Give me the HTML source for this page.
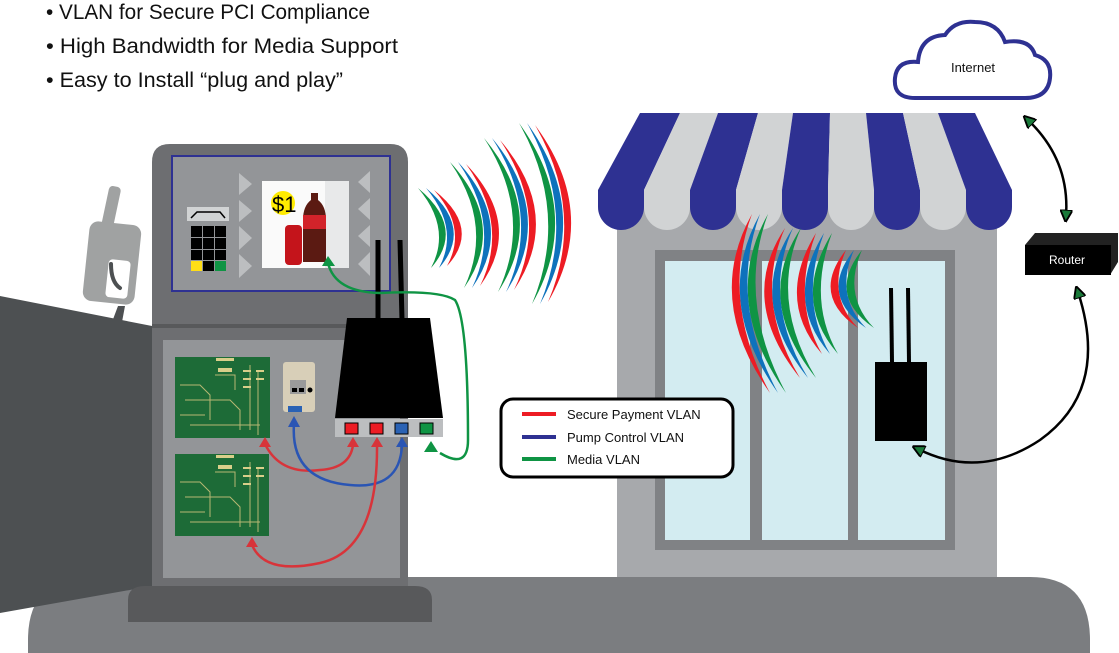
<!DOCTYPE html>
<html><head><meta charset="utf-8"><style>html,body{margin:0;padding:0;background:#fff}svg{display:block}</style></head>
<body>
<svg width="1119" height="653" viewBox="0 0 1119 653" xmlns="http://www.w3.org/2000/svg" font-family="Liberation Sans, sans-serif">
<defs>
<marker id="ah" viewBox="0 0 10 10" refX="5" refY="5" markerWidth="5" markerHeight="5" orient="auto-start-reverse"><path d="M0,0L10,5L0,10z" fill="#1a7a3a" stroke="#000" stroke-width="1.5"/></marker>
</defs>
<g font-size="21" fill="#111">
<text x="46" y="19" textLength="324" lengthAdjust="spacingAndGlyphs">• VLAN for Secure PCI Compliance</text>
<text x="46" y="53" textLength="352" lengthAdjust="spacingAndGlyphs">• High Bandwidth for Media Support</text>
<text x="46" y="87" textLength="297" lengthAdjust="spacingAndGlyphs">• Easy to Install “plug and play”</text>
</g>
<path d="M28,653 L28,640 Q28,577 90,577 L1030,577 Q1090,577 1090,640 L1090,653 Z" fill="#7b7d80"/>
<rect x="617" y="190" width="380" height="387" fill="#a7a9ac"/>
<rect x="655" y="250" width="300" height="300" fill="#808285"/>
<rect x="665" y="261" width="85" height="279" fill="#d3ecf1"/>
<rect x="762" y="261" width="86" height="279" fill="#d3ecf1"/>
<rect x="858" y="261" width="87" height="279" fill="#d3ecf1"/>
<g>
<path d="M640,113 L680,113 L644,190 L598,190 Z" fill="#2e3192"/>
<path d="M680,113 L718,113 L690,190 L644,190 Z" fill="#d1d3d4"/>
<path d="M718,113 L758,113 L736,190 L690,190 Z" fill="#2e3192"/>
<path d="M758,113 L793,113 L782,190 L736,190 Z" fill="#d1d3d4"/>
<path d="M793,113 L830,113 L828,190 L782,190 Z" fill="#2e3192"/>
<path d="M830,113 L866,113 L874,190 L828,190 Z" fill="#d1d3d4"/>
<path d="M866,113 L903,113 L920,190 L874,190 Z" fill="#2e3192"/>
<path d="M903,113 L938,113 L966,190 L920,190 Z" fill="#d1d3d4"/>
<path d="M938,113 L975,113 L1012,190 L966,190 Z" fill="#2e3192"/>
<path d="M598,190 L644,190 L644,207 A23,23 0 0 1 598,207 Z" fill="#2e3192"/>
<path d="M644,190 L690,190 L690,207 A23,23 0 0 1 644,207 Z" fill="#d1d3d4"/>
<path d="M690,190 L736,190 L736,207 A23,23 0 0 1 690,207 Z" fill="#2e3192"/>
<path d="M736,190 L782,190 L782,207 A23,23 0 0 1 736,207 Z" fill="#d1d3d4"/>
<path d="M782,190 L828,190 L828,207 A23,23 0 0 1 782,207 Z" fill="#2e3192"/>
<path d="M828,190 L874,190 L874,207 A23,23 0 0 1 828,207 Z" fill="#d1d3d4"/>
<path d="M874,190 L920,190 L920,207 A23,23 0 0 1 874,207 Z" fill="#2e3192"/>
<path d="M920,190 L966,190 L966,207 A23,23 0 0 1 920,207 Z" fill="#d1d3d4"/>
<path d="M966,190 L1012,190 L1012,207 A23,23 0 0 1 966,207 Z" fill="#2e3192"/>
</g>
<!-- store waves (crescents bulging left) -->
<g>
<path d="M752,214 Q704,300 770,393 Q720,300 752,214Z" fill="#ed1c24"/>
<path d="M760,214 Q712,300 778,393 Q728,300 760,214Z" fill="#0e72bc"/>
<path d="M768,214 Q720,300 786,393 Q736,300 768,214Z" fill="#0f9444"/>
<path d="M785,228 Q737,300 800,378 Q753,300 785,228Z" fill="#ed1c24"/>
<path d="M793,228 Q745,300 808,378 Q761,300 793,228Z" fill="#0e72bc"/>
<path d="M801,228 Q753,300 816,378 Q769,300 801,228Z" fill="#0f9444"/>
<path d="M816,233 Q775,300 822,354 Q791,300 816,233Z" fill="#ed1c24"/>
<path d="M824,233 Q783,300 830,354 Q799,300 824,233Z" fill="#0e72bc"/>
<path d="M832,233 Q791,300 838,354 Q807,300 832,233Z" fill="#0f9444"/>
<path d="M846,250 Q810,295 858,328 Q826,295 846,250Z" fill="#ed1c24"/>
<path d="M854,250 Q818,295 866,328 Q834,295 854,250Z" fill="#0e72bc"/>
<path d="M862,250 Q826,295 874,328 Q842,295 862,250Z" fill="#0f9444"/>
</g>
<line x1="891" y1="288" x2="892" y2="362" stroke="#000" stroke-width="4"/>
<line x1="908" y1="288" x2="909" y2="362" stroke="#000" stroke-width="4"/>
<rect x="875" y="362" width="52" height="79" fill="#000"/>
<path d="M915,98 Q893,98 895,78 Q897,60 918,62 Q920,36 945,35 Q955,20 975,22 Q998,22 1005,42 Q1030,38 1035,55 Q1052,60 1050,78 Q1048,98 1025,98 Z" fill="#fff" stroke="#2e3192" stroke-width="4"/>
<text x="973" y="72" font-size="13" text-anchor="middle" fill="#111">Internet</text>
<path d="M1025,245 L1035,233 L1118,233 L1118,262 L1110,275 Z" fill="#222"/>
<rect x="1025" y="245" width="86" height="30" fill="#000"/>
<text x="1067" y="264" font-size="12" text-anchor="middle" fill="#fff">Router</text>
<path d="M1028,120 Q1070,160 1066,216" fill="none" stroke="#000" stroke-width="2.5" marker-start="url(#ah)" marker-end="url(#ah)"/>
<path d="M1078,292 Q1110,390 1040,440 Q980,480 918,449" fill="none" stroke="#000" stroke-width="2.5" marker-start="url(#ah)" marker-end="url(#ah)"/>
<path d="M0,296 L152,326 L152,586 L0,613 Z" fill="#4d5052"/>
<path d="M112,322 L118,306 L125,306 L122,322 Z" fill="#4d5052"/>
<rect x="105" y="186" width="12" height="45" rx="4" fill="#a0a2a2" transform="rotate(12 111 208)"/>
<rect x="86" y="223" width="52" height="80" rx="9" fill="#a0a2a2" transform="rotate(6 112 263)"/>
<rect x="107" y="260" width="22" height="38" rx="4" fill="#fff" transform="rotate(6 118 279)"/>
<path d="M111,264 Q111,282 120,288" fill="none" stroke="#4d5052" stroke-width="4" stroke-linecap="round"/>
<path d="M152,586 L152,162 Q152,144 170,144 L390,144 Q408,144 408,162 L408,586 Z" fill="#6d6e71"/>
<rect x="152" y="324" width="256" height="4" fill="#58595b"/>
<rect x="172" y="156" width="218" height="135" fill="#939598" stroke="#2e3192" stroke-width="2"/>
<rect x="163" y="340" width="237" height="238" fill="#939598"/>
<path d="M128,622 L128,600 Q128,586 145,586 L415,586 Q432,586 432,600 L432,622 Z" fill="#58595b"/>
<rect x="187" y="207" width="42" height="14" fill="#d1d3d4"/>
<path d="M191,218 L197,212 L220,212 L225,218" fill="none" stroke="#000" stroke-width="1.5"/>
<g fill="#000">
<rect x="191" y="226" width="11" height="11"/><rect x="203" y="226" width="11" height="11"/><rect x="215" y="226" width="11" height="11"/>
<rect x="191" y="238" width="11" height="11"/><rect x="203" y="238" width="11" height="11"/><rect x="215" y="238" width="11" height="11"/>
<rect x="191" y="250" width="11" height="10"/><rect x="203" y="250" width="11" height="10"/><rect x="215" y="250" width="11" height="10"/>
<rect x="203" y="261" width="11" height="10"/>
</g>
<rect x="191" y="261" width="11" height="10" fill="#ffde17"/>
<rect x="215" y="261" width="11" height="10" fill="#0f9444"/>
<g fill="#bcbec0">
<path d="M239,173 L252,184 L239,195Z"/><path d="M239,200 L252,211 L239,222Z"/><path d="M239,226 L252,238 L239,250Z"/><path d="M239,254 L252,266 L239,278Z"/>
<path d="M370,171 L358,182 L370,193Z"/><path d="M370,198 L358,209 L370,220Z"/><path d="M370,225 L358,236 L370,247Z"/><path d="M370,252 L358,264 L370,276Z"/>
</g>
<rect x="262" y="181" width="87" height="87" fill="#fafafa"/>
<rect x="325" y="181" width="24" height="87" fill="#e8e9ea"/>
<circle cx="283" cy="203" r="12" fill="#ffeb00"/>
<text x="272" y="212" font-size="22" fill="#000">$1</text>
<rect x="285" y="225" width="17" height="40" rx="4" fill="#c4141b"/>
<path d="M311,200 L311,193 L318,193 L318,200 Q326,206 326,220 L326,262 L303,262 L303,220 Q303,206 311,200Z" fill="#5b1a12"/>
<rect x="303" y="215" width="23" height="14" fill="#d2232a"/>
<g>
<rect x="175" y="357" width="95" height="81" fill="#1d6b37"/>
<rect x="175" y="454" width="94" height="82" fill="#1d6b37"/>
<g stroke="#c8c07a" stroke-width="1" fill="none" opacity="0.9">
<path d="M180,385 L200,385 L210,395 L210,420 M185,400 L230,400 L240,410 L240,430 M250,365 L250,430 M258,370 L258,435 M190,425 L260,425 M215,375 L235,375 L235,390 M180,415 L205,415"/>
<path d="M180,482 L200,482 L210,492 L210,517 M185,497 L230,497 L240,507 L240,527 M250,462 L250,527 M258,467 L258,532 M190,522 L260,522 M215,472 L235,472 L235,487 M180,512 L205,512"/>
</g>
<g fill="#d9cf8a">
<rect x="216" y="358" width="18" height="3"/><rect x="218" y="368" width="14" height="4"/><rect x="243" y="370" width="8" height="2"/><rect x="243" y="378" width="8" height="2"/><rect x="243" y="386" width="8" height="2"/><rect x="256" y="370" width="8" height="2"/><rect x="256" y="378" width="8" height="2"/>
<rect x="216" y="455" width="18" height="3"/><rect x="218" y="465" width="14" height="4"/><rect x="243" y="467" width="8" height="2"/><rect x="243" y="475" width="8" height="2"/><rect x="243" y="483" width="8" height="2"/><rect x="256" y="467" width="8" height="2"/><rect x="256" y="475" width="8" height="2"/>
</g>
</g>
<rect x="283" y="362" width="32" height="50" rx="3" fill="#d8cfb8"/>
<rect x="290" y="380" width="16" height="14" fill="#9a9a9a"/>
<rect x="292" y="388" width="5" height="4" fill="#000"/><rect x="299" y="388" width="5" height="4" fill="#000"/>
<circle cx="310" cy="390" r="2.5" fill="#000"/>
<rect x="288" y="406" width="14" height="6" fill="#2a62b4"/>
<line x1="378" y1="240" x2="378" y2="320" stroke="#000" stroke-width="5"/>
<line x1="400" y1="240" x2="402" y2="320" stroke="#000" stroke-width="5"/>
<path d="M347,318 L430,318 L443,418 L335,418 Z" fill="#000"/>
<rect x="335" y="419" width="108" height="18" fill="#bcbec0"/>
<rect x="345" y="423" width="13" height="11" fill="#ed1c24" stroke="#000" stroke-width="1"/>
<rect x="370" y="423" width="13" height="11" fill="#ed1c24" stroke="#000" stroke-width="1"/>
<rect x="395" y="423" width="13" height="11" fill="#2a62b4" stroke="#000" stroke-width="1"/>
<rect x="420" y="423" width="13" height="11" fill="#0f9444" stroke="#000" stroke-width="1"/>
<g fill="none" stroke-width="2.5">
<path d="M265,444 Q280,475 320,470 Q350,468 353,445" stroke="#d8343a"/>
<path d="M294,424 Q290,480 350,485 Q400,490 402,445" stroke="#2a55b4"/>
<path d="M252,545 Q265,575 320,563 Q378,550 377,445" stroke="#d8343a"/>
<path d="M328,263 Q335,292 380,293 Q440,290 455,300 Q468,320 468,440 Q468,470 440,453" stroke="#0f9444"/>
</g>
<g>
<path d="M259,447 L265,437 L271,447Z" fill="#d8343a"/>
<path d="M347,447 L353,437 L359,447Z" fill="#d8343a"/>
<path d="M371,447 L377,437 L383,447Z" fill="#d8343a"/>
<path d="M246,547 L252,537 L258,547Z" fill="#d8343a"/>
<path d="M288,427 L294,416 L300,427Z" fill="#2a55b4"/>
<path d="M396,447 L402,437 L408,447Z" fill="#2a55b4"/>
<path d="M424,452 L431,441 L438,452Z" fill="#0f9444"/>
<path d="M322,266 L328,256 L335,266Z" fill="#0f9444"/>
</g>
<!-- pump waves (crescents bulging right) -->
<g>
<path d="M418,188 Q466,228 431,268 Q452,228 418,188Z" fill="#0f9444"/>
<path d="M426,188 Q474,228 439,268 Q460,228 426,188Z" fill="#0e72bc"/>
<path d="M434,190 Q482,228 447,266 Q468,228 434,190Z" fill="#ed1c24"/>
<path d="M450,162 Q508,225 464,288 Q494,225 450,162Z" fill="#0f9444"/>
<path d="M458,162 Q516,225 472,288 Q502,225 458,162Z" fill="#0e72bc"/>
<path d="M466,164 Q524,225 480,286 Q510,225 466,164Z" fill="#ed1c24"/>
<path d="M484,138 Q548,215 498,292 Q534,215 484,138Z" fill="#0f9444"/>
<path d="M492,138 Q556,215 506,292 Q542,215 492,138Z" fill="#0e72bc"/>
<path d="M500,140 Q564,215 514,290 Q550,215 500,140Z" fill="#ed1c24"/>
<path d="M519,123 Q584,213 532,304 Q570,213 519,123Z" fill="#0f9444"/>
<path d="M527,123 Q592,213 540,304 Q578,213 527,123Z" fill="#0e72bc"/>
<path d="M535,125 Q600,213 548,302 Q586,213 535,125Z" fill="#ed1c24"/>
</g>
<rect x="501" y="399" width="232" height="78" rx="12" fill="#fff" stroke="#000" stroke-width="3"/>
<line x1="522" y1="414" x2="556" y2="414" stroke="#ed1c24" stroke-width="4"/>
<line x1="522" y1="437" x2="556" y2="437" stroke="#2e3192" stroke-width="4"/>
<line x1="522" y1="459" x2="556" y2="459" stroke="#0f9444" stroke-width="4"/>
<g font-size="13" fill="#111">
<text x="567" y="419">Secure Payment VLAN</text>
<text x="567" y="442">Pump Control VLAN</text>
<text x="567" y="464">Media VLAN</text>
</g>
</svg>
</body></html>
